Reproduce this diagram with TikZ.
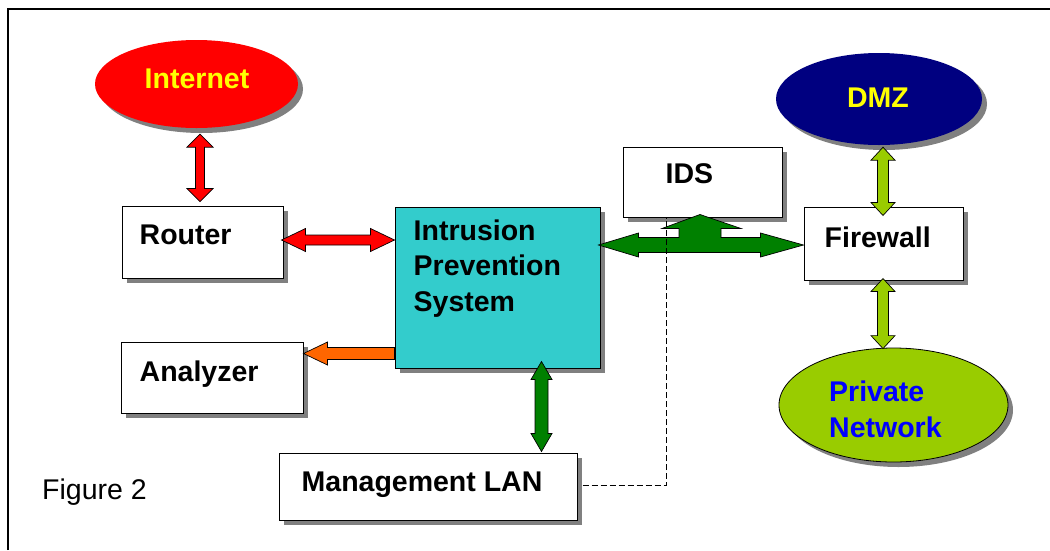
\documentclass[tikz,border=0pt]{standalone}
\usepackage{fontspec}
\setmainfont{Liberation Sans}
\usetikzlibrary{calc,shapes.geometric,shadows}

\definecolor{netred}{HTML}{FF0000}
\definecolor{labelyellow}{HTML}{FFFF00}
\definecolor{navy}{HTML}{000080}
\definecolor{ipscyan}{HTML}{33CCCC}
\definecolor{linkgreen}{HTML}{008000}
\definecolor{limegreen}{HTML}{99CC00}
\definecolor{logorange}{HTML}{FF6600}
\definecolor{privblue}{HTML}{0000FF}
\definecolor{shadowgray}{HTML}{808080}

\tikzset{
  dropshade/.style={drop shadow={shadow xshift=5pt, shadow yshift=-5pt, fill=shadowgray, opacity=1}},
  box/.style={rectangle, draw=black, line width=1pt, fill=white, inner sep=0pt, dropshade},
  oval/.style={ellipse, inner sep=0pt, dropshade},
  lbl/.style={font=\fontsize{28.5}{35.5}\selectfont\bfseries, inner sep=0pt},
  blockarrow/.style={draw=black, line width=0.7pt, line join=miter},
  frameline/.style={draw=black, line width=1.3pt},
}

% Block arrow with a head at both ends:
% tip 1, tip 2, fill, shaft half-width, head half-width, head length
\newcommand\twoheaded[6]{%
  \coordinate (ha) at ($(#1)!#6!(#2)$);
  \coordinate (hb) at ($(#2)!#6!(#1)$);
  \draw[blockarrow, fill=#3] (#1)
    -- ($(ha)!#5!90:(#2)$) -- ($(ha)!#4!90:(#2)$)
    -- ($(hb)!#4!90:(#2)$) -- ($(hb)!#5!90:(#2)$)
    -- (#2)
    -- ($(hb)!#5!-90:(#2)$) -- ($(hb)!#4!-90:(#2)$)
    -- ($(ha)!#4!-90:(#2)$) -- ($(ha)!#5!-90:(#2)$)
    -- cycle;
}
% Block arrow with a single head: tail, tip, fill, shaft half-width, head half-width, head length
\newcommand\oneheaded[6]{%
  \coordinate (hb) at ($(#2)!#6!(#1)$);
  \draw[blockarrow, fill=#3] ($(#1)!#4!90:(#2)$)
    -- ($(hb)!#4!90:(#2)$) -- ($(hb)!#5!90:(#2)$)
    -- (#2)
    -- ($(hb)!#5!-90:(#2)$) -- ($(hb)!#4!-90:(#2)$)
    -- ($(#1)!#4!-90:(#2)$) -- cycle;
}

\begin{document}
\begin{tikzpicture}[x=1pt, y=-1pt]
\useasboundingbox (0,0) rectangle (1050,550);
\fill[white] (0,0) rectangle (1050,550);

% open page frame
\draw[frameline] (8,550) -- (8,9) -- (1050,9);

% clouds
\node[oval, fill=netred, minimum width=203pt, minimum height=88pt] (internet) at (196.5,84) {};
\node[oval, fill=navy, minimum width=206pt, minimum height=92pt] (dmz) at (879,99) {};
\node[oval, fill=limegreen, draw=black, line width=0.8pt, minimum width=229pt, minimum height=114pt] (priv) at (893.5,405) {};

% boxes
\node[box, minimum width=161pt, minimum height=72pt] (router) at (202.5,242) {};
\node[box, minimum width=182pt, minimum height=71pt] (analyzer) at (212,377.5) {};
\node[box, fill=ipscyan, minimum width=205pt, minimum height=161pt] (ips) at (497.5,287.5) {};
\node[box, minimum width=159pt, minimum height=70pt] (ids) at (702.5,182) {};
\node[box, minimum width=159pt, minimum height=73pt] (fw) at (883.5,243.5) {};
\node[box, minimum width=298pt, minimum height=67pt] (mgmt) at (428,486.5) {};

% labels
\node[lbl, text=labelyellow, anchor=base] (internettext) at ($(internet.center)+(0.5,4)$) {Internet};
\node[lbl, text=labelyellow, anchor=base] (dmztext) at ($(dmz.center)+(-1,8)$) {DMZ};
\node[lbl, text=privblue, anchor=north west, align=left] (privtext) at ($(priv.center)+(-64.5,-24)$) {Private\\Network};
\node[lbl, anchor=base west] (routertext) at ($(router.west)+(18,2)$) {Router};
\node[lbl, anchor=base west] (analyzertext) at ($(analyzer.west)+(19,3.5)$) {Analyzer};
\node[lbl, anchor=north west, align=left] (ipstext) at ($(ips.north west)+(19,13)$) {Intrusion\\Prevention\\System};
\node[lbl, anchor=base west] (idstext) at ($(ids.west)+(43,1)$) {IDS};
\node[lbl, anchor=base west] (fwtext) at ($(fw.west)+(21,3.5)$) {Firewall};
\node[lbl, anchor=base west] (mgmttext) at ($(mgmt.west)+(23,4.5)$) {Management LAN};
\node[inner sep=0pt, anchor=base west, font=\fontsize{28.5}{34}\selectfont] (fig) at (42,499) {Figure 2};

% Internet <-> Router
\coordinate (inetlow) at ($(internet.south)+(3.5,6)$);
\coordinate (routertop) at ($(router.north)+(-2.5,-4)$);
\twoheaded{inetlow}{routertop}{netred}{4.5pt}{13pt}{13pt}

% Router <-> IPS
\coordinate (routerside) at ($(router.east)+(-2,-2)$);
\coordinate (ipsleft) at (ips.west |- routerside);
\twoheaded{routerside}{ipsleft}{netred}{5pt}{11.5pt}{24pt}

% IPS -> Analyzer
\coordinate (anatip) at ($(analyzer.north east)+(0,12)$);
\coordinate (ipslow) at (ips.west |- anatip);
\oneheaded{ipslow}{anatip}{logorange}{6pt}{11.5pt}{24pt}

% IPS <-> Management LAN
\coordinate (ipsbottom) at ($(ips.south east)+(-59,-7)$);
\coordinate (mgmttop) at ($(ipsbottom |- mgmt.north)+(0,-1)$);
\twoheaded{ipsbottom}{mgmttop}{linkgreen}{6.5pt}{10.5pt}{18pt}

% DMZ <-> Firewall <-> Private network
\coordinate (dmzlow) at ($(dmz.south)+(4,2)$);
\coordinate (fwtop) at ($(fw.north)+(-0.5,9)$);
\twoheaded{dmzlow}{fwtop}{limegreen}{5.5pt}{12pt}{13pt}
\coordinate (fwlow) at ($(fw.south)+(-0.5,-2)$);
\coordinate (privtop) at ($(fwlow |- priv.north)+(0,1)$);
\twoheaded{fwlow}{privtop}{limegreen}{5.5pt}{12pt}{13pt}

% IPS <-> Firewall with a branch up to the IDS
\coordinate (tl) at (ips.east |- fw.west);
\coordinate (tr) at ($(fw.west)+(0,1.5)$);
\coordinate (tl) at ($(tl)+(-2,1.5)$);
\coordinate (apex) at ($(ids.south)+(-2.5,-3)$);
\draw[blockarrow, fill=linkgreen]
  (tl) -- ($(tl)+(40,-12)$) -- ($(tl)+(40,-7.5)$)
  -- ($(apex |- tl)+(-21,-7.5)$) -- ($(apex)+(-21,14)$) -- ($(apex)+(-38,14)$)
  -- (apex)
  -- ($(apex)+(41,14)$) -- ($(apex)+(21,14)$) -- ($(apex |- tl)+(21,-7.5)$)
  -- ($(tr)+(-43,-7.5)$) -- ($(tr)+(-43,-12)$)
  -- (tr)
  -- ($(tr)+(-43,12)$) -- ($(tr)+(-43,7.5)$)
  -- ($(tl)+(40,7.5)$) -- ($(tl)+(40,12)$) -- cycle;

% monitoring link from the management LAN to the IDS
\draw[line width=0.9pt, dash pattern=on 6pt off 3pt]
  ($(mgmt.east)+(5,-1.5)$) -| ($(ids.south west)+(44,0)$);

\end{tikzpicture}
\end{document}
